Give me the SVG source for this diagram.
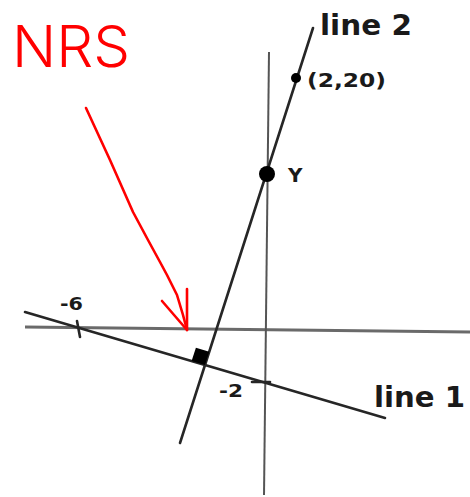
<svg xmlns="http://www.w3.org/2000/svg" width="470" height="497" viewBox="0 0 470 497">
<style>
.axis{stroke:#555;stroke-width:2;fill:none}
.xaxis{stroke:#6a6a6a;stroke-width:3;fill:none}
.ln{stroke:#262626;stroke-width:2.6;fill:none;stroke-linecap:round}
.lbl{font-family:"DejaVu Sans",Verdana,sans-serif;font-weight:bold;fill:#1a1a1a}
.red{stroke:#ff0000;stroke-width:2.6;fill:none;stroke-linecap:round;stroke-linejoin:round}
</style>
<rect width="470" height="497" fill="#fff"/>
<g id="axes">
<line class="xaxis" x1="25" y1="327" x2="470" y2="332"/>
<line class="axis" x1="269" y1="52" x2="264" y2="495"/>
</g>
<g id="connectors">
<line id="line1" class="ln" x1="25" y1="312" x2="385" y2="418"/>
<line id="line2" class="ln" x1="313" y1="28" x2="180" y2="443"/>
<line class="ln" x1="77" y1="321" x2="80" y2="337"/>
<line class="ln" x1="252" y1="382" x2="270" y2="382"/>
<path class="red" d="M86,108 L110,160 L133,212 L148,240 L160,262 L167,275 L172,285 L177,295 L180,305 L183,315 L187,330"/>
<path class="red" d="M162,301 L187,330 L187,289"/>
</g>
<g id="right-angle">
<polygon points="205,365 191.6,361.1 195.9,347.8 209.3,351.7" fill="#000"/>
</g>
<g id="point-Y">
<circle cx="267" cy="174" r="8" fill="#000"/>
<text class="lbl" x="288" y="182" font-size="20">Y</text>
</g>
<g id="point-2-20">
<circle cx="296" cy="78" r="5" fill="#000"/>
<text class="lbl" x="307" y="87" font-size="20" textLength="79" lengthAdjust="spacingAndGlyphs">(2,20)</text>
</g>
<g id="label-line2">
<text class="lbl" x="320" y="35" font-size="28" textLength="92" lengthAdjust="spacingAndGlyphs">line 2</text>
</g>
<g id="label-line1">
<text class="lbl" x="374" y="407" font-size="28" textLength="91" lengthAdjust="spacingAndGlyphs">line 1</text>
</g>
<g id="tick-6">
<text class="lbl" x="60" y="310" font-size="18" textLength="23" lengthAdjust="spacingAndGlyphs">-6</text>
</g>
<g id="tick-2">
<text class="lbl" x="219" y="397" font-size="18" textLength="24" lengthAdjust="spacingAndGlyphs">-2</text>
</g>
<g id="NRS">
<text x="12" y="67" font-family="Inter,'Liberation Sans',sans-serif" font-weight="300" font-size="57" fill="#ff0000" textLength="118" lengthAdjust="spacingAndGlyphs">NRS</text>
</g>
</svg>
